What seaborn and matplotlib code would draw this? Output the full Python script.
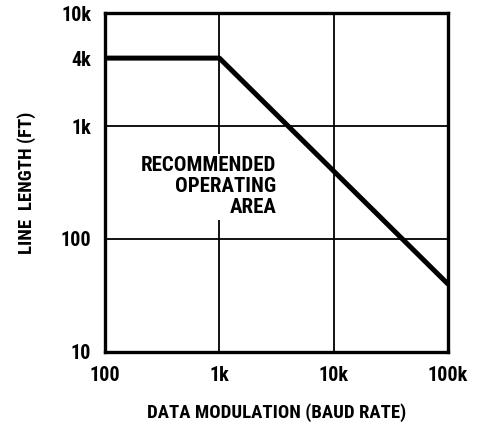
import matplotlib
matplotlib.use("Agg")
import matplotlib.pyplot as plt
from matplotlib import font_manager
import seaborn as sns
import pandas as pd

# data
baud_rate = [100, 1000, 100000]
line_length = [4000, 4000, 40]

x_ticks = [100, 1000, 10000, 100000]
x_labels = ["100", "1k", "10k", "100k"]
y_ticks = [10, 100, 1000, 4000, 10000]
y_labels = ["10", "100", "1k", "4k", "10k"]

sns.set_style("white")

# a narrow bold face is closest to the original print; fall back if missing
names = {f.name for f in font_manager.fontManager.ttflist}
wanted = ["Liberation Sans Narrow", "DejaVu Sans Condensed", "Roboto Condensed",
          "Open Sans Condensed", "Noto Sans Condensed"]
family = [n for n in wanted if n in names] + ["DejaVu Sans"]
plt.rcParams['font.family'] = family
plt.rcParams['font.stretch'] = 'condensed'
plt.rcParams['text.color'] = 'black'
plt.rcParams['axes.labelcolor'] = 'black'
plt.rcParams['xtick.color'] = 'black'
plt.rcParams['ytick.color'] = 'black'

df = pd.DataFrame({"baud": baud_rate, "length": line_length})

fig = plt.figure(figsize=(4.8, 4.25), dpi=100)
ax = fig.add_axes([0.219, 0.172, 0.714, 0.797])

ax.set_xscale("log")
ax.set_yscale("log")
ax.set_xlim(100, 100000)
ax.set_ylim(10, 10000)

# decade grid lines
for v in [1000, 10000]:
    ax.axvline(v, color="black", lw=1.3, zorder=1)
for v in [100, 1000]:
    ax.axhline(v, color="black", lw=1.3, zorder=1)

sns.lineplot(data=df, x="baud", y="length", color="black", lw=3.6, ax=ax, zorder=3)

ax.set_xticks(x_ticks)
ax.set_xticklabels(x_labels)
ax.set_yticks(y_ticks)
ax.set_yticklabels(y_labels)
ax.minorticks_off()
ax.tick_params(length=0, labelsize=14.5, pad=10)
for lab in ax.get_xticklabels() + ax.get_yticklabels():
    lab.set_fontweight("bold")

for s in ax.spines.values():
    s.set_linewidth(2.4)
    s.set_color("black")

ax.text(3150, 290, "RECOMMENDED\nOPERATING\nAREA", ha="right", va="center",
        fontsize=15, fontweight="bold", linespacing=1.12, zorder=2,
        bbox=dict(facecolor="white", edgecolor="none", pad=2))

ax.set_xlabel("DATA MODULATION (BAUD RATE)", fontsize=13.5, fontweight="bold", labelpad=13)
ax.set_ylabel("LINE  LENGTH (FT)", fontsize=13.5, fontweight="bold", labelpad=18)

fig.savefig("out.png", dpi=100, facecolor="white")
